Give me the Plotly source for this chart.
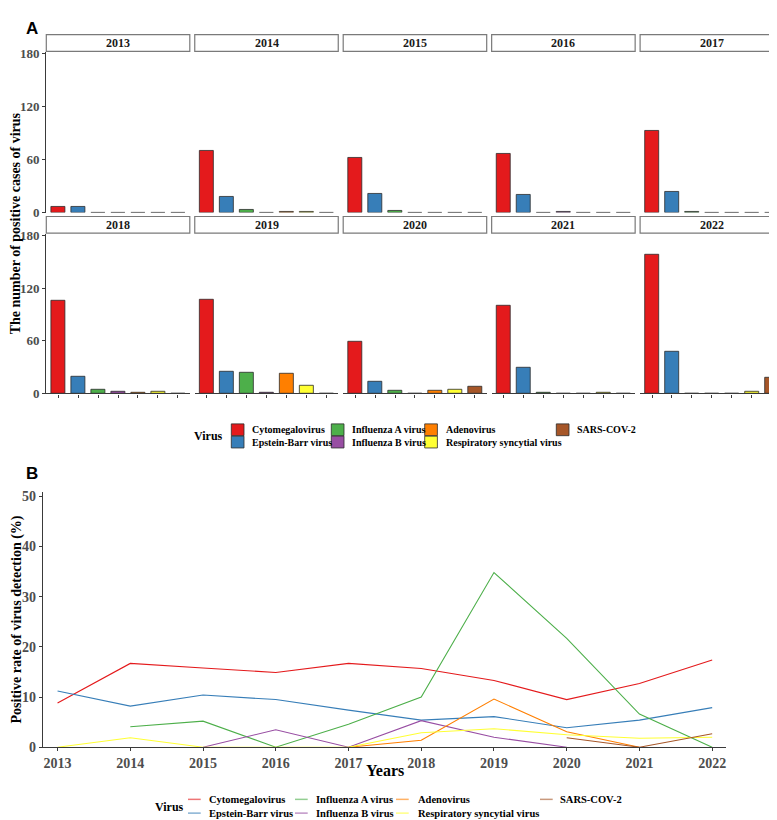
import plotly.graph_objects as go

# ---------------- data ----------------
viruses = ["Cytomegalovirus", "Epstein-Barr virus", "Influenza A virus", "Influenza B virus",
           "Adenovirus", "Respiratory syncytial virus", "SARS-COV-2"]
colors = ["#E41A1C", "#377EB8", "#4DAF4A", "#984EA3", "#FF7F00", "#FFFF33", "#A65628"]
years = [2013, 2014, 2015, 2016, 2017, 2018, 2019, 2020, 2021, 2022]

# panel A: number of positive cases per year
cases_cmv = [7, 70, 62, 66, 93, 106, 107, 59, 100, 158]
cases_ebv = [6, 18, 21, 20, 24, 19, 25, 13, 29, 48]
cases_flua = [0, 3, 2, 0, 1, 4, 24, 3, 1, 0]
cases_flub = [0, 0, 0, 1, 0, 2, 1, 0, 0, 0]
cases_adeno = [0, 1, 0, 0, 0, 1, 22, 3, 0, 0]
cases_rsv = [0, 1, 0, 0, 0, 2, 9, 4, 1, 2]
cases_sars = [0, 0, 0, 0, 0, 0, 0, 8, 0, 18]

# panel B: positive rate (%)
rate_cmv = [8.8, 16.7, 15.8, 14.9, 16.7, 15.7, 13.3, 9.5, 12.7, 17.4]
rate_ebv = [11.2, 8.2, 10.4, 9.5, 7.4, 5.4, 6.1, 3.9, 5.4, 7.9]
rate_flua = [None, 4.1, 5.2, 0, 4.6, 10.0, 34.8, 21.7, 6.6, 0]
rate_flub = [None, None, 0, 3.5, 0, 5.3, 2.0, 0, None, None]
rate_adeno = [None, None, None, None, 0, 1.4, 9.6, 3.1, 0, None]
rate_rsv = [0, 1.9, 0, 0, 0, 2.9, 3.7, 2.5, 1.8, 2.0]
rate_sars = [None, None, None, None, None, None, None, 1.9, 0, 2.7]

cases = [cases_cmv, cases_ebv, cases_flua, cases_flub, cases_adeno, cases_rsv, cases_sars]
rates = [rate_cmv, rate_ebv, rate_flua, rate_flub, rate_adeno, rate_rsv, rate_sars]

# ---------------- layout helpers ----------------
W, H = 777, 820
def px(x): return x / W
def py(y): return 1 - y / H

SERIF = "Liberation Serif"
TICKCOL = "#4D4D4D"
AXCOL = "#3a3a3a"

fig = go.Figure()
layout = dict(width=W, height=H, margin=dict(l=0, r=0, t=0, b=0),
              paper_bgcolor="white", plot_bgcolor="white", showlegend=False,
              bargap=0)
shapes = []
annotations = []

left0, pw, gap = 38.3, 143.5, 4.95
rows = [(38.5, 202.0, 21.0), (223.5, 386.0, 206.0)]  # panel top, bottom, strip top

for i, yr in enumerate(years):
    r, c = divmod(i, 5)
    n = i + 1
    xs = "x" if n == 1 else f"x{n}"
    ys = "y" if n == 1 else f"y{n}"
    xk = "xaxis" if n == 1 else f"xaxis{n}"
    yk = "yaxis" if n == 1 else f"yaxis{n}"
    l = left0 + c * (pw + gap)
    top, bot, stop = rows[r]
    fig.add_trace(go.Bar(x=viruses, y=[cs[i] for cs in cases], xaxis=xs, yaxis=ys,
                         width=0.7, marker=dict(color=colors, line=dict(color="#2b2b2b", width=0.8)),
                         hoverinfo="x+y"))
    layout[xk] = dict(domain=[px(l), px(l + pw)], anchor=ys, type="category",
                      categoryorder="array", categoryarray=viruses, range=[-0.6, 6.6],
                      showticklabels=False, showgrid=False, zeroline=False,
                      showline=(r == 1), linecolor=AXCOL, linewidth=1.3,
                      ticks="outside" if r == 1 else "", ticklen=3, tickcolor=AXCOL)
    layout[yk] = dict(domain=[py(bot), py(top)], anchor=xs, range=[0, 182],
                      tickvals=[0, 60, 120, 180], showgrid=False, zeroline=False,
                      showticklabels=(c == 0), showline=(c == 0), linecolor=AXCOL, linewidth=1.3,
                      ticks="outside" if c == 0 else "", ticklen=3, tickcolor=AXCOL,
                      tickfont=dict(family=SERIF, size=13, color=TICKCOL, weight="bold"))
    # strip
    shapes.append(dict(type="rect", xref="paper", yref="paper",
                       x0=px(l), x1=px(l + pw), y0=py(stop + 17), y1=py(stop),
                       fillcolor="white", line=dict(color="#7a7a7a", width=1.2)))
    annotations.append(dict(xref="paper", yref="paper", x=px(l + pw / 2), y=py(stop + 8.5),
                            text=str(yr), showarrow=False, xanchor="center", yanchor="middle",
                            font=dict(family=SERIF, size=12, color="#1a1a1a", weight="bold")))

# panel B
for v, col, rt in zip(viruses, colors, rates):
    fig.add_trace(go.Scatter(x=years, y=rt, mode="lines", name=v, xaxis="x11", yaxis="y11",
                             line=dict(color=col, width=1.1), connectgaps=False))
layout["xaxis11"] = dict(domain=[px(35), px(718)], anchor="y11", range=[2012.8, 2022.19],
                         tickvals=years, showgrid=False, zeroline=False, showline=True,
                         linecolor=AXCOL, linewidth=1.3, ticks="outside", ticklen=3, tickcolor=AXCOL,
                         tickfont=dict(family=SERIF, size=14, color=TICKCOL, weight="bold"))
layout["yaxis11"] = dict(domain=[py(746), py(486)], anchor="x11", range=[0, 50.9],
                         tickvals=[0, 10, 20, 30, 40, 50], showgrid=False, zeroline=False,
                         showline=True, linecolor=AXCOL, linewidth=1.3, ticks="outside",
                         ticklen=3, tickcolor=AXCOL,
                         tickfont=dict(family=SERIF, size=14, color=TICKCOL, weight="bold"))

# panel letters
annotations.append(dict(xref="paper", yref="paper", x=px(16), y=py(3), text="A", showarrow=False,
                        xanchor="left", yanchor="top",
                        font=dict(family="Liberation Sans", size=17, color="black", weight="bold")))
annotations.append(dict(xref="paper", yref="paper", x=px(16), y=py(456), text="B", showarrow=False,
                        xanchor="left", yanchor="top",
                        font=dict(family="Liberation Sans", size=17, color="black", weight="bold")))

# axis titles
annotations.append(dict(xref="paper", yref="paper", x=px(7), y=py(213), text="The number of positive cases of virus",
                        showarrow=False, textangle=-90, xanchor="center", yanchor="middle",
                        font=dict(family=SERIF, size=14, color="black", weight="bold")))
annotations.append(dict(xref="paper", yref="paper", x=px(9), y=py(616), text="Positive rate of virus detection (%)",
                        showarrow=False, textangle=-90, xanchor="center", yanchor="middle",
                        font=dict(family=SERIF, size=14, color="black", weight="bold")))
annotations.append(dict(xref="paper", yref="paper", x=px(377), y=py(770), text="Years",
                        showarrow=False, xanchor="center", yanchor="middle",
                        font=dict(family=SERIF, size=16, color="black", weight="bold")))

# legend A (manual, column-major 2 rows)
legA_keys = [223.3, 323.3, 416.7, 548.3]
legA_txt = [242.3, 341.7, 435.7, 566.7]
legA_rows = [423.0, 435.5]
annotations.append(dict(xref="paper", yref="paper", x=px(217), y=py(429.5), text="Virus",
                        showarrow=False, xanchor="right", yanchor="middle",
                        font=dict(family=SERIF, size=12, color="black", weight="bold")))
for k, (v, col) in enumerate(zip(viruses, colors)):
    cc, rr = divmod(k, 2)
    yc = legA_rows[rr]
    shapes.append(dict(type="rect", xref="paper", yref="paper",
                       x0=px(legA_keys[cc]), x1=px(legA_keys[cc] + 12.7),
                       y0=py(yc + 6), y1=py(yc - 6), fillcolor=col,
                       line=dict(color="#2b2b2b", width=0.8)))
    annotations.append(dict(xref="paper", yref="paper", x=px(legA_txt[cc]), y=py(yc), text=v,
                            showarrow=False, xanchor="left", yanchor="middle",
                            font=dict(family=SERIF, size=10, color="black", weight="bold")))

# legend B
legB_keys = [180, 287, 388, 532]
legB_txt = [199, 306, 407.5, 550]
legB_rows = [799.0, 813.0]
annotations.append(dict(xref="paper", yref="paper", x=px(145), y=py(806.5), text="Virus",
                        showarrow=False, xanchor="left", yanchor="middle",
                        font=dict(family=SERIF, size=12, color="black", weight="bold")))
for k, (v, col) in enumerate(zip(viruses, colors)):
    cc, rr = divmod(k, 2)
    yc = legB_rows[rr]
    shapes.append(dict(type="line", xref="paper", yref="paper",
                       x0=px(legB_keys[cc]), x1=px(legB_keys[cc] + 12.7),
                       y0=py(yc), y1=py(yc), opacity=0.6, line=dict(color=col, width=1.5)))
    annotations.append(dict(xref="paper", yref="paper", x=px(legB_txt[cc]), y=py(yc), text=v,
                            showarrow=False, xanchor="left", yanchor="middle",
                            font=dict(family=SERIF, size=10.5, color="black", weight="bold")))

layout["shapes"] = shapes
layout["annotations"] = annotations
fig.update_layout(**layout)
fig.write_html("out.html")
